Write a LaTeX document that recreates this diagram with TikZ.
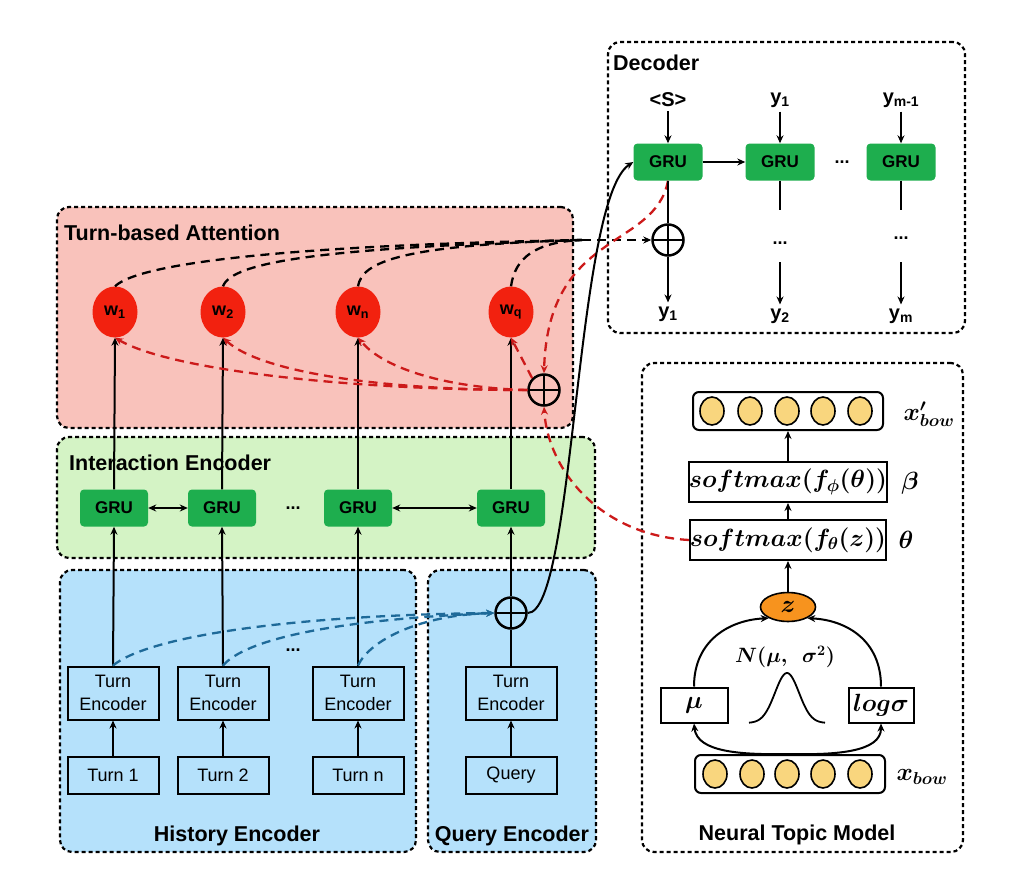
\documentclass[tikz,border=0pt]{standalone}
\usepackage[no-math]{fontspec}
\setmainfont{Liberation Sans}
\usepackage{bm}
\usetikzlibrary{shapes.geometric,arrows.meta}
\definecolor{attfill}{HTML}{F9C2BB}
\definecolor{interfill}{HTML}{D4F3C5}
\definecolor{encfill}{HTML}{B5E1FB}
\definecolor{grugreen}{HTML}{1EAE4E}
\definecolor{wred}{HTML}{F2210F}
\definecolor{zorange}{HTML}{F7931E}
\definecolor{bowfill}{HTML}{F9D67E}
\definecolor{reddash}{HTML}{CC1A1A}
\definecolor{bluedash}{HTML}{1E6A99}
\begin{document}
\begin{tikzpicture}[x=1pt,y=-1pt,>={Stealth[length=8pt,width=7pt]},
 region/.style={draw, line width=2.2pt, dash pattern=on 4pt off 3pt, rounded corners=12pt, inner sep=0pt},
 rlbl/.style={font=\bfseries\fontsize{21.5}{24}\selectfont, inner sep=0pt},
 gru/.style={fill=grugreen, rounded corners=4pt, minimum width=68pt, minimum height=37pt, inner sep=0pt, font=\bfseries\fontsize{17}{20}\selectfont},
 wnode/.style={ellipse, fill=wred, minimum width=45pt, minimum height=51pt, inner sep=0pt, font=\bfseries\fontsize{18}{20}\selectfont},
 plusnode/.style={circle, draw, line width=2.5pt, minimum size=31pt, inner sep=0pt, path picture={\draw[line width=2.5pt] (path picture bounding box.north) -- (path picture bounding box.south) (path picture bounding box.west) -- (path picture bounding box.east);}},
 tebox/.style={draw, line width=2pt, minimum width=91pt, minimum height=53pt, inner sep=0pt, align=center, font=\fontsize{18}{23}\selectfont},
 turnbox/.style={draw, line width=2pt, minimum width=91pt, minimum height=37pt, inner sep=0pt, font=\fontsize{18}{20}\selectfont},
 lbl/.style={font=\bfseries\fontsize{20}{22}\selectfont, inner sep=4pt},
 dotsn/.style={font=\bfseries\fontsize{18}{20}\selectfont, inner sep=0pt},
 arr/.style={line width=2pt, ->},
 ln/.style={line width=2pt},
 dashk/.style={line width=2.3pt, dash pattern=on 9pt off 6pt},
 dashr/.style={line width=2.3pt, dash pattern=on 9pt off 6pt, color=reddash},
 dashb/.style={line width=2.3pt, dash pattern=on 9pt off 6pt, color=bluedash},
 bowc/.style={ellipse, draw, line width=1.6pt, fill=bowfill, minimum width=24pt, minimum height=28pt, inner sep=0pt},
 mbox/.style={draw, line width=2pt, inner sep=0pt},
 mlbl/.style={font=\fontsize{24}{26}\selectfont, inner sep=0pt},
 smx/.style={draw, line width=2pt, inner sep=0pt, minimum width=195pt, minimum height=40pt, font=\fontsize{23}{26}\selectfont},
]
\useasboundingbox[fill=white] (0,0) rectangle (1014,873);

% ---------- regions ----------
\node[region, fill=attfill, minimum width=516pt, minimum height=221pt] (att) at (315,317.5) {};
\node[region, fill=interfill, minimum width=538pt, minimum height=121pt] (inter) at (326,497.5) {};
\node[region, fill=encfill, minimum width=356pt, minimum height=282pt] (hist) at (238,711) {};
\node[region, fill=encfill, minimum width=168pt, minimum height=282pt] (qenc) at (512,711) {};
\node[region, minimum width=357pt, minimum height=291pt] (dec) at (786.5,187.5) {};
\node[region, minimum width=321pt, minimum height=489pt] (ntm) at (802.5,607.5) {};

\node[rlbl, anchor=west] (attl) at (64,233) {Turn-based Attention};
\node[rlbl, anchor=west] (interl) at (69,463) {Interaction Encoder};
\node[rlbl] (histl) at (237,836) {History Encoder};
\node[rlbl] (qencl) at (512,836) {Query Encoder};
\node[rlbl, anchor=west] (decl) at (613,63) {Decoder};
\node[rlbl] (ntml) at (797,835) {Neural Topic Model};

% ---------- history / query encoders ----------
\node[tebox] (te1) at (113,693) {Turn\\Encoder};
\node[tebox] (te2) at (223,693) {Turn\\Encoder};
\node[tebox] (ten) at (358,693) {Turn\\Encoder};
\node[tebox] (teq) at (511,693) {Turn\\Encoder};
\node[turnbox] (t1) at (113,775) {Turn 1};
\node[turnbox] (t2) at (223,775) {Turn 2};
\node[turnbox] (tn) at (358,775) {Turn n};
\node[turnbox] (tq) at (511,775) {Query};
\node[dotsn] (hdots) at (293,650) {...};
\node[plusnode] (qplus) at (511,613) {};

% ---------- interaction encoder ----------
\node[gru] (ig1) at (114,508) {GRU};
\node[gru] (ig2) at (222,508) {GRU};
\node[gru] (ign) at (358,508) {GRU};
\node[gru] (igq) at (511,508) {GRU};
\node[dotsn] (idots) at (293,508) {...};

% ---------- attention ----------
\node[wnode] (w1) at (115,312) {w\textsubscript{1}};
\node[wnode] (w2) at (223,312) {w\textsubscript{2}};
\node[wnode] (wn) at (358,312) {w\textsubscript{n}};
\node[wnode] (wq) at (511,312) {w\textsubscript{q}};
\node[plusnode] (aplus) at (544,390) {};

% ---------- decoder ----------
\node[lbl] (s0) at (668,100) {<S>};
\node[lbl] (in2) at (780,100) {y\textsubscript{1}};
\node[lbl] (in3) at (901,100) {y\textsubscript{m-1}};
\node[gru, minimum width=69pt] (dg1) at (668,162) {GRU};
\node[gru, minimum width=69pt] (dg2) at (780,162) {GRU};
\node[gru, minimum width=69pt] (dg3) at (901,162) {GRU};
\node[dotsn] (ddots) at (842,162) {...};
\node[plusnode] (dplus) at (668,240) {};
\node[dotsn] (dd2) at (780,243) {...};
\node[dotsn] (dd3) at (901,238) {...};
\node[lbl] (out1) at (668,314) {y\textsubscript{1}};
\node[lbl] (out2) at (780,316) {y\textsubscript{2}};
\node[lbl] (out3) at (901,316) {y\textsubscript{m}};
\coordinate (c2a) at (780,210);
\coordinate (c2b) at (780,262);
\coordinate (c3a) at (901,210);
\coordinate (c3b) at (901,262);
\coordinate (jm) at (582,240);

% ---------- neural topic model ----------
\node[draw, line width=2pt, rounded corners=6pt, minimum width=190pt, minimum height=38pt, inner sep=0pt] (xp) at (788,411) {};
\foreach \i/\xx in {1/712,2/750,3/787,4/823,5/860} \node[bowc] (xpc\i) at (\xx,411) {};
\node[mlbl] (xpl) at (929,414) {$\bm{x^{\prime}_{bow}}$};
\node[smx] (phib) at (788,482) {$\bm{softmax(f_{\phi}(\theta))}$};
\node[mlbl] (betal) at (910,483) {$\bm{\beta}$};
\node[smx] (thz) at (788,540) {$\bm{softmax(f_{\theta}(z))}$};
\node[mlbl] (thetal) at (906,540) {$\bm{\theta}$};
\node[ellipse, draw, line width=1.6pt, fill=zorange, minimum width=55pt, minimum height=29pt, inner sep=0pt, font=\fontsize{24}{26}\selectfont] (z) at (788,607) {$\bm{z}$};
\node[font=\fontsize{20}{22}\selectfont, inner sep=0pt] (nl) at (785,657) {$\bm{N(\mu,\ \ \sigma^2)}$};
\node[mbox, minimum width=67pt, minimum height=35pt, font=\fontsize{24}{26}\selectfont] (mu) at (694,705) {$\bm{\mu}$};
\node[mbox, minimum width=65pt, minimum height=35pt, font=\fontsize{24}{26}\selectfont] (logs) at (881,705) {$\bm{log\sigma}$};
\node[draw, line width=2pt, rounded corners=6pt, minimum width=190pt, minimum height=38pt, inner sep=0pt] (xb) at (790,774) {};
\foreach \i/\xx in {1/715,2/752,3/787,4/823,5/860} \node[bowc] (xbc\i) at (\xx,774) {};
\node[mlbl] (xbl) at (922,777) {$\bm{x_{bow}}$};
\draw[line width=1.8pt] plot[domain=-38:38, samples=60] ({787+\x},{723-50*exp(-(\x*\x)/288)});

% ---------- connectors: encoders ----------
\draw[arr] (t1.north) -- (te1.south);
\draw[arr] (t2.north) -- (te2.south);
\draw[arr] (tn.north) -- (ten.south);
\draw[arr] (tq.north) -- (teq.south);
\draw[arr] (te1.north) -- (ig1.south);
\draw[arr] (te2.north) -- (ig2.south);
\draw[arr] (ten.north) -- (ign.south);
\draw[ln] (teq.north) -- (qplus.south);
\draw[arr] (qplus.north) -- (igq.south);
\draw[dashb, ->] (te1.north) .. controls (150,635) and (300,615) .. (qplus.west);
\draw[dashb, ->] (te2.north) .. controls (245,640) and (330,620) .. (qplus.west);
\draw[dashb, ->] (ten.north) .. controls (370,640) and (420,615) .. (qplus.west);
\draw[line width=2pt, <->] (ig1.east) -- (ig2.west);
\draw[line width=2pt, <->] (ign.east) -- (igq.west);
\draw[arr] (ig1.north) -- (w1.south);
\draw[arr] (ig2.north) -- (w2.south);
\draw[arr] (ign.north) -- (wn.south);
\draw[arr] (igq.north) -- (wq.south);

% ---------- attention connectors ----------
\draw[dashr, ->] (aplus.west) .. controls (350,390) and (170,370) .. (w1.south);
\draw[dashr, ->] (aplus.west) .. controls (380,390) and (260,372) .. (w2.south);
\draw[dashr, ->] (aplus.west) .. controls (450,388) and (385,370) .. (wn.south);
\draw[dashr, ->] (aplus.135) -- (wq.south);
\draw[dashk] (w1.north) .. controls (140,262) and (300,245) .. (jm);
\draw[dashk] (w2.north) .. controls (232,262) and (320,248) .. (jm);
\draw[dashk] (wn.north) .. controls (362,262) and (400,245) .. (jm);
\draw[dashk] (wq.north) .. controls (515,258) and (535,242) .. (jm);
\draw[dashk, ->] (jm) -- (dplus.west);
\draw[dashr, ->] (dg1.south) .. controls (655,250) and (548,230) .. (aplus.north);
\draw[dashr, ->] (thz.west) .. controls (600,535) and (548,470) .. (aplus.south);
\draw[line width=2pt, ->] (qplus.east) .. controls (575,613) and (575,200) .. (dg1.west);

% ---------- decoder connectors ----------
\draw[arr] (s0.south) -- (dg1.north);
\draw[arr] (in2.south) -- (dg2.north);
\draw[arr] (in3.south) -- (dg3.north);
\draw[arr] (dg1.east) -- (dg2.west);
\draw[ln] (dg1.south) -- (dplus.north);
\draw[arr] (dplus.south) -- (out1.north);
\draw[ln] (dg2.south) -- (c2a);
\draw[arr] (c2b) -- (out2.north);
\draw[ln] (dg3.south) -- (c3a);
\draw[arr] (c3b) -- (out3.north);

% ---------- NTM connectors ----------
\draw[arr] (phib.north) -- (xp.south);
\draw[arr] (thz.north) -- (phib.south);
\draw[arr] (z.north) -- (thz.south);
\draw[arr] (mu.north) .. controls (694,640) and (730,620) .. (z.210);
\draw[arr] (logs.north) .. controls (881,640) and (846,620) .. (z.330);
\draw[arr] (xb.north) .. controls (740,755) and (697,752) .. (mu.south);
\draw[arr] (xb.north) .. controls (836,755) and (881,752) .. (logs.south);
\end{tikzpicture}
\end{document}
